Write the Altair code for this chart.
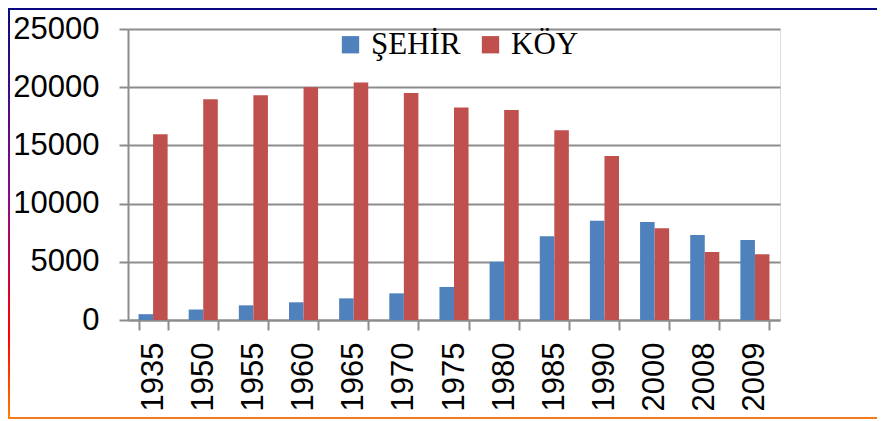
import altair as alt
import pandas as pd

years = ["1935", "1950", "1955", "1960", "1965", "1970", "1975",
         "1980", "1985", "1990", "2000", "2008", "2009"]
sehir = [500, 900, 1260, 1520, 1860, 2290, 2840, 5000, 7200, 8530, 8420, 7300, 6870]
koy = [15950, 18960, 19300, 20000, 20400, 19500, 18250, 18050, 16300, 14100, 7880, 5850, 5650]
series = ["ŞEHİR", "KÖY"]
colors = ["#4F81BD", "#C0504D"]
y_ticks = [0, 5000, 10000, 15000, 20000, 25000]

rows = []
for i, yr in enumerate(years):
    rows.append({"year": yr, "series": series[0], "value": sehir[i]})
    rows.append({"year": yr, "series": series[1], "value": koy[i]})
df = pd.DataFrame(rows)

GRID = "#8C8C8C"

bars = alt.Chart(df).mark_bar().encode(
    x=alt.X("year:N", sort=years,
            scale=alt.Scale(paddingInner=0.42, paddingOuter=0.21),
            axis=alt.Axis(title=None, labelAngle=-90, labelFont="Liberation Sans",
                          labelFontSize=31, labelColor="black", labelPadding=12,
                          tickSize=10, tickColor=GRID, tickWidth=2, tickBand="extent",
                          domainColor=GRID, domainWidth=2, grid=False)),
    xOffset=alt.XOffset("series:N", sort=series,
                        scale=alt.Scale(paddingInner=0, paddingOuter=0)),
    y=alt.Y("value:Q", scale=alt.Scale(domain=[0, 25000], nice=False),
            axis=alt.Axis(title=None, values=y_ticks, format="d",
                          labelFont="Liberation Sans", labelFontSize=31,
                          labelColor="black", labelPadding=20,
                          tickSize=9, tickColor=GRID, tickWidth=2,
                          domainColor=GRID, domainWidth=2,
                          grid=True, gridColor=GRID, gridWidth=2)),
    color=alt.Color("series:N", sort=series,
                    scale=alt.Scale(domain=series, range=colors),
                    legend=alt.Legend(title=None, orient="none", legendX=207, legendY=0,
                                      direction="horizontal", symbolType="square",
                                      symbolSize=300, symbolStrokeWidth=0,
                                      labelFont="Liberation Serif", labelFontSize=31,
                                      labelColor="black", labelOffset=5,
                                      columnPadding=14, padding=0)),
)

one = pd.DataFrame({"k": [0]})

top_line = alt.Chart(one).mark_rule(color="#0A0A80", strokeWidth=2).encode(
    x=alt.value(-120), x2=alt.value(749), y=alt.value(-20))

bottom_line = alt.Chart(one).mark_rule(color="#F57A1E", strokeWidth=2).encode(
    x=alt.value(-120), x2=alt.value(749), y=alt.value(389))

grad = alt.LinearGradient(
    gradient="linear", x1=0, x2=0, y1=0, y2=1,
    stops=[alt.GradientStop(color="#0A0A80", offset=0),
           alt.GradientStop(color="#8A0A8A", offset=0.45),
           alt.GradientStop(color="#FF0000", offset=0.8),
           alt.GradientStop(color="#FF7F00", offset=1)])

left_line = alt.Chart(one).mark_rect(fill=grad).encode(
    x=alt.value(-120), x2=alt.value(-118), y=alt.value(-21), y2=alt.value(390))

chart = alt.layer(bars, top_line, bottom_line, left_line).properties(
    width=652, height=291,
    autosize=alt.AutoSizeParams(type="none"),
    padding={"left": 120, "top": 21, "right": 97, "bottom": 100},
).configure_view(stroke=None).configure(background="white")

chart.save("out.html", embed_options={"renderer": "svg", "actions": False})
